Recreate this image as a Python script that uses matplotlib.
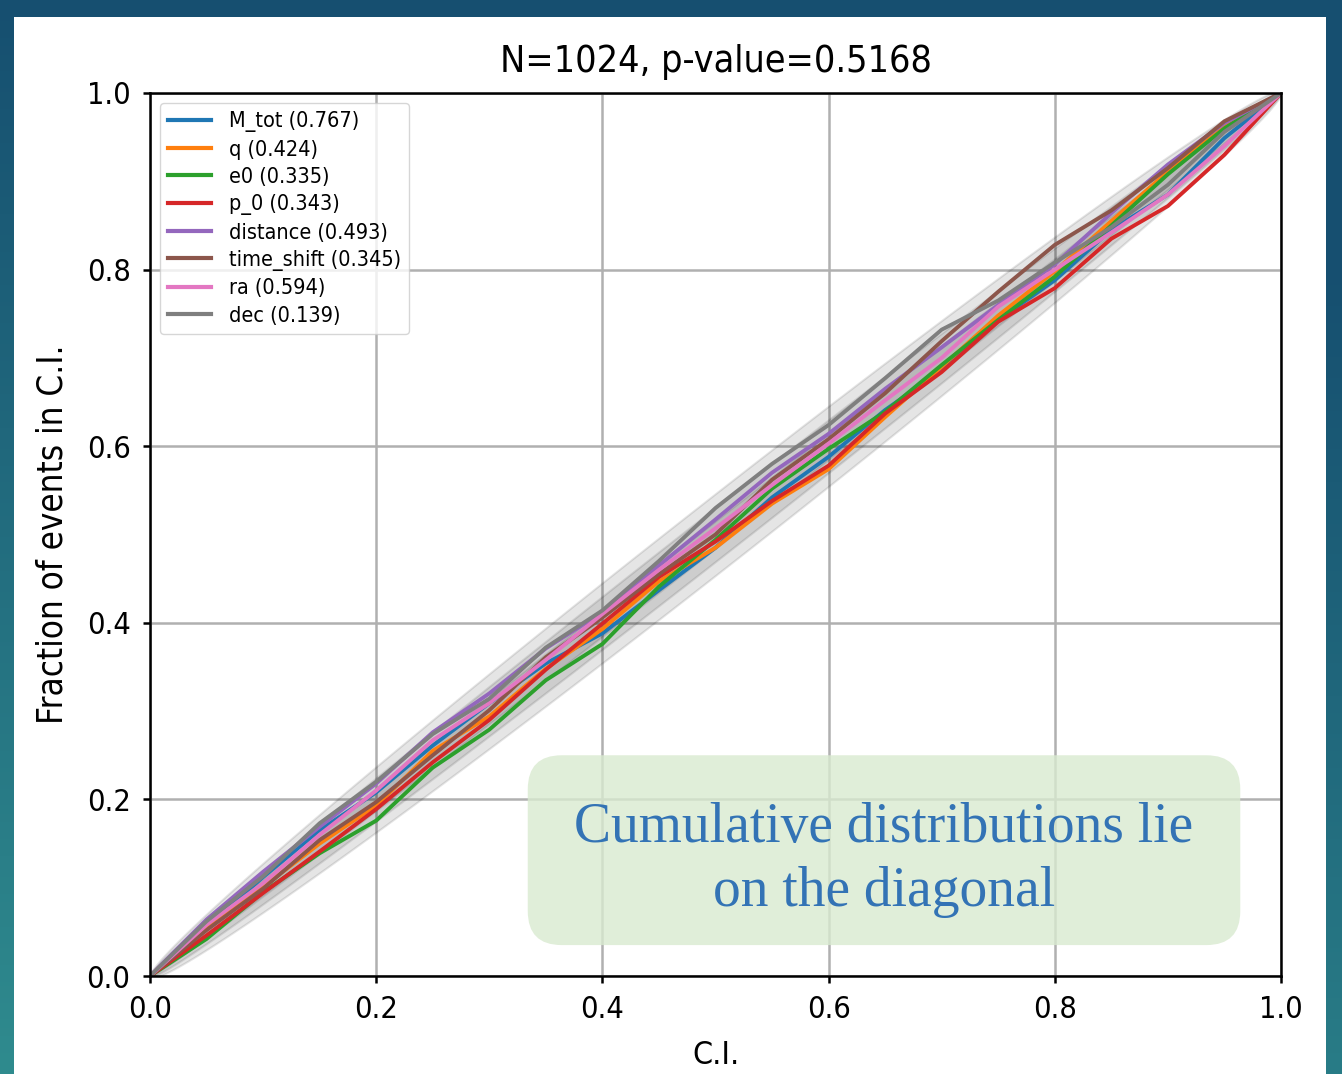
import numpy as np
import matplotlib
matplotlib.use("Agg")
import matplotlib.pyplot as plt
from matplotlib.patches import FancyBboxPatch, Rectangle
from matplotlib.colors import to_rgb

plt.rcParams["font.family"] = ["DejaVu Sans"]
plt.rcParams["font.stretch"] = "condensed"

# --- data ---
N_EVENTS = 1024
P_VALUE = 0.5168
CI_LEVELS = [0.68, 0.95, 0.997]
CI_Z = [0.994, 1.960, 2.968]      # normal quantiles for the levels above

ci_grid = [0.00, 0.05, 0.10, 0.15, 0.20, 0.25, 0.30, 0.35, 0.40, 0.45, 0.50,
           0.55, 0.60, 0.65, 0.70, 0.75, 0.80, 0.85, 0.90, 0.95, 1.00]

param_names = ["M_tot", "q", "e0", "p_0", "distance", "time_shift", "ra", "dec"]
param_pvalues = [0.767, 0.424, 0.335, 0.343, 0.493, 0.345, 0.594, 0.139]

M_tot = [0, .056, .112, .165, .208, .261, .309, .354, .388, .437, .485,
         .542, .588, .641, .686, .743, .788, .845, .885, .949, 1.0]
q = [0, .054, .101, .150, .193, .255, .294, .348, .393, .447, .485,
     .535, .574, .633, .690, .748, .798, .855, .911, .962, 1.0]
e0 = [0, .042, .095, .139, .176, .236, .279, .335, .376, .441, .494,
      .552, .597, .639, .692, .743, .792, .850, .908, .960, 1.0]
p_0 = [0, .046, .094, .141, .189, .242, .290, .347, .399, .452, .492,
       .538, .578, .637, .684, .741, .779, .835, .872, .930, 1.0]
distance = [0, .064, .118, .169, .218, .276, .320, .371, .412, .465, .517,
            .570, .614, .665, .712, .760, .806, .864, .919, .966, 1.0]
time_shift = [0, .052, .099, .154, .197, .250, .301, .361, .406, .455, .500,
              .562, .608, .660, .719, .775, .828, .867, .915, .968, 1.0]
ra = [0, .058, .105, .160, .210, .267, .309, .358, .410, .460, .507,
      .556, .603, .652, .700, .758, .800, .842, .885, .940, 1.0]
dec = [0, .062, .113, .173, .220, .274, .314, .372, .414, .470, .530,
       .580, .624, .677, .732, .765, .808, .848, .896, .956, 1.0]

series = [M_tot, q, e0, p_0, distance, time_shift, ra, dec]

W, H = 1342, 1074
fig = plt.figure(figsize=(W / 100, H / 100), dpi=100)

# slide background gradient + white panel
bg = fig.add_axes([0, 0, 1, 1], zorder=-10)
top = np.array(to_rgb("#164f70"))
bot = np.array(to_rgb("#2f8b8e"))
t = np.linspace(0, 1, 256)[:, None, None]
s = np.linspace(0, 1, 64)[None, :, None]
grad = top + (bot - top) * np.clip(t - 0.25 * s, 0, 1)
bg.imshow(grad, aspect="auto", extent=[0, 1, 0, 1], origin="upper")
bg.add_patch(Rectangle((14 / W, 0), (1326 - 14) / W, (H - 17) / H,
                       facecolor="white", edgecolor="none", transform=bg.transAxes))
bg.set_axis_off()

ax = fig.add_axes([150 / W, (H - 976) / H, (1281 - 150) / W, (976 - 93) / H])

# binomial confidence bands
xx = np.linspace(0, 1, 1001)
for z in CI_Z:
    half = z * np.sqrt(xx * (1 - xx) / N_EVENTS)
    ax.fill_between(xx, xx - half, xx + half, color="k", alpha=0.1, lw=1.5)

for name, pv, ys in zip(param_names, param_pvalues, series):
    ax.plot(ci_grid, ys, lw=2.8, label=f"{name} ({pv:.3f})")

ax.set_xlim(0, 1)
ax.set_ylim(0, 1)
ax.grid(True, color="#b0b0b0", lw=1.8)
ax.set_axisbelow(True)
for sp in ax.spines.values():
    sp.set_linewidth(1.8)
ax.tick_params(labelsize=22, length=5, width=1.8, pad=9)
ax.set_xticks([0, 0.2, 0.4, 0.6, 0.8, 1.0])
ax.set_yticks([0, 0.2, 0.4, 0.6, 0.8, 1.0])
ax.set_xlabel("C.I.", fontsize=23, labelpad=11)
ax.set_ylabel("Fraction of events in C.I.", fontsize=25, labelpad=12)
ax.set_title(f"N={N_EVENTS}, p-value={P_VALUE}", fontsize=27, pad=15)

leg = ax.legend(loc="upper left", fontsize=15.5, labelspacing=0.34,
                handlelength=2.0, borderpad=0.4, framealpha=0.8,
                borderaxespad=0.45)
for h in leg.get_lines():
    h.set_linewidth(3)

# annotation box
aspect = ((1281 - 150) / W * W) / ((976 - 93) / H * H)
box = FancyBboxPatch((0.334, 0.035), 0.630, 0.215,
                     boxstyle="round,pad=0,rounding_size=0.03",
                     mutation_aspect=aspect, facecolor="#d9ead0", alpha=0.8,
                     edgecolor="none", zorder=5)
ax.add_patch(box)
ax.text(0.649, 0.131, "Cumulative distributions lie\non the diagonal",
        ha="center", va="center", fontsize=40, color="#3373b5",
        family="Liberation Serif", fontstretch="normal", linespacing=1.3,
        zorder=6)

fig.savefig("out.png", dpi=100)
